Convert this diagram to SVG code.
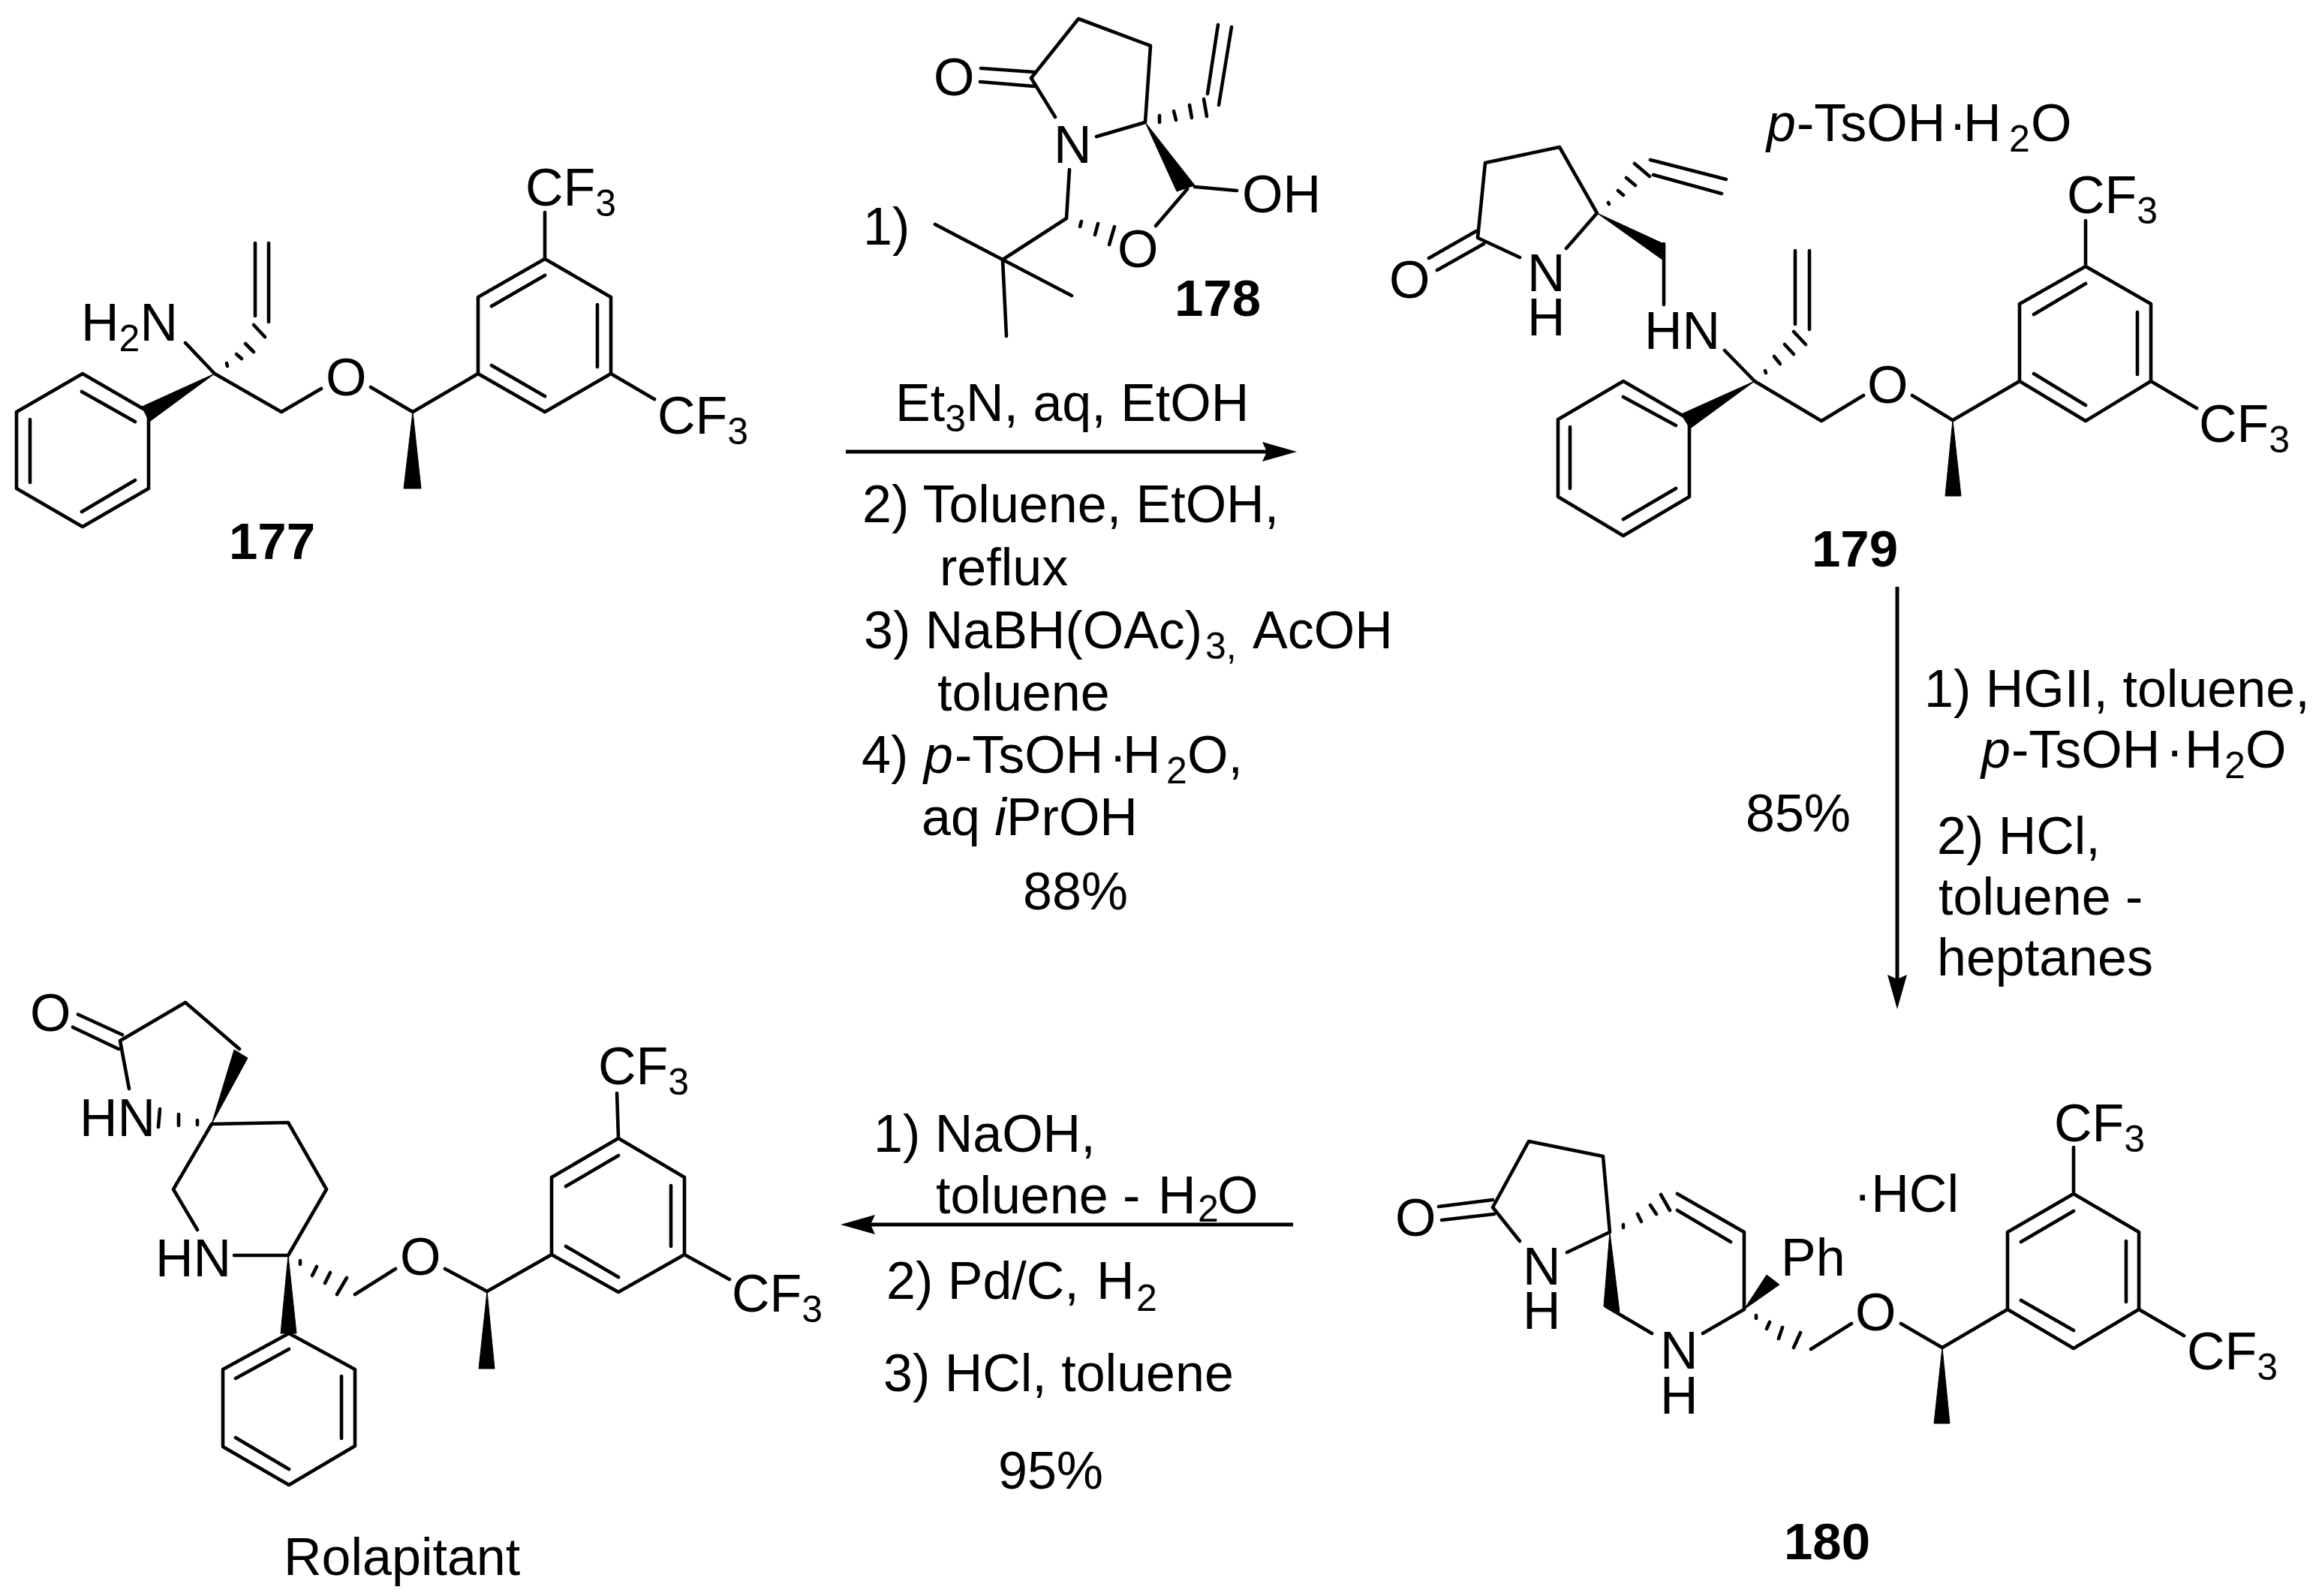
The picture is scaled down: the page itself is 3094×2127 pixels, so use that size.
<svg xmlns="http://www.w3.org/2000/svg" width="3094" height="2127" viewBox="0 0 3094 2127">
<style>
.b{stroke:#000;stroke-width:4.6;fill:none;stroke-linecap:round;stroke-linejoin:round}
.w{fill:#000;stroke:#000;stroke-width:1;stroke-linejoin:round}
.a{stroke:#000;stroke-width:5;fill:none}
text{font-family:"Liberation Sans",Arial,sans-serif;font-size:70px;fill:#000}
.s{font-size:50px}
.n{font-weight:bold;font-size:69px}
.i{font-style:italic}
</style>
<defs>
<marker id="head" markerUnits="userSpaceOnUse" markerWidth="46" markerHeight="26" refX="6" refY="13" orient="auto" viewBox="0 0 46 26"><path d="M0 0L46 13L0 26L6 13Z" fill="#000"/></marker>
</defs>
<rect width="3094" height="2127" fill="#fff"/>
<g id="connectors">
<path class="a" d="M1127 602H1688" marker-end="url(#head)"/>
<path class="a" d="M2528 782V1305" marker-end="url(#head)"/>
<path class="a" d="M1723 1632H1160" marker-end="url(#head)"/>
</g>
<g id="mol-177">
<path class="b" d="M198 549L110 498L22 549V651L110 702L198 651ZM109 522L180 562M180 640L109 682M40 559V643"/>
<path class="w" d="M286 498L189 542L199 562Z"/>
<path class="b" d="M286 498L247 457M286 498L375 549L428 518M494 516L550 549L637 498M340 324V421M358 324V429"/>
<path class="b" d="M302 484L303 488M315 472L322 478M327 458L338 469M338 433L353 449"/>
<path class="w" d="M550 549L538 651H561Z"/>
<path class="b" d="M726 345L814 396V498L726 549L637 498V396ZM726 367L655 408M796 406V489M655 487L726 528M726 345V283M814 498L872 532"/>
<text x="108" y="454">H<tspan class="s" dy="14">2</tspan><tspan dy="-14">N</tspan></text>
<text x="434" y="527">O</text>
<text x="700" y="274">CF<tspan class="s" dy="14">3</tspan></text>
<text x="876" y="578">CF<tspan class="s" dy="14">3</tspan></text>
<text class="n" x="305" y="745">177</text>
</g>
<g id="mol-178">
<path class="b" d="M1406 156L1374 104L1437 25L1533 61L1526 163L1461 182M1307 91L1378 96M1306 109L1378 115"/>
<path class="b" d="M1545 154V163M1564 148L1567 160M1585 140L1588 157M1604 132L1608 155M1623 33L1609 125M1641 36L1624 140"/>
<path class="w" d="M1526 163L1568 255L1592 247Z"/>
<path class="b" d="M1592 249L1648 254M1582 252L1540 301M1425 226L1421 291L1336 346L1246 299M1336 346L1428 394M1336 346L1341 448"/>
<path class="b" d="M1441 295L1439 302M1463 298L1459 313M1485 302L1478 326"/>
<text x="1404" y="217">N</text>
<text x="1244" y="127">O</text>
<text x="1655" y="283">OH</text>
<text x="1489" y="356">O</text>
<text x="1150" y="326">1)</text>
<text class="n" x="1565" y="421">178</text>
</g>
<g id="mol-179">
<path class="b" d="M2025 343L1969 317L1979 217L2078 196L2128 284L2087 331M1904 344L1967 308M1915 360L1977 325"/>
<path class="b" d="M2143 270L2144 272M2156 254L2163 260M2167 237L2179 247M2178 218L2198 235M2199 213L2300 239M2203 233L2294 258"/>
<path class="w" d="M2128 284L2217 325L2215 346Z"/>
<path class="b" d="M2217 325V406M2298 467L2338 508L2427 561L2483 527M2548 527L2602 560L2691 508M2392 334V432M2411 334V439"/>
<path class="b" d="M2352 494L2353 497M2364 475L2372 485M2378 459L2390 472M2390 442L2406 459"/>
<path class="w" d="M2338 508L2240 552L2252 571Z"/>
<path class="b" d="M2251 559L2163 508L2076 559V662L2163 714L2251 662ZM2163 529L2233 567M2233 651L2163 692M2092 569V651"/>
<path class="w" d="M2602 560L2592 661H2613Z"/>
<path class="b" d="M2779 355L2866 405V508L2779 561L2691 508V405ZM2779 378L2710 419M2848 416V499M2710 498L2779 540M2779 355V294M2866 508L2927 544"/>
<text x="2035" y="388">N</text>
<text x="2035" y="447">H</text>
<text x="1851" y="397">O</text>
<text x="2191" y="465">HN</text>
<text x="2488" y="537">O</text>
<text x="2754" y="284">CF<tspan class="s" dy="14">3</tspan></text>
<text x="2930" y="589">CF<tspan class="s" dy="14">3</tspan></text>
<text x="2354" y="188"><tspan class="i">p</tspan><tspan x="2394">-TsOH</tspan><tspan x="2597">·</tspan><tspan x="2616">H</tspan><tspan class="s" x="2677" dy="14">2</tspan><tspan x="2706" dy="-14">O</tspan></text>
<text class="n" x="2414" y="755">179</text>
</g>
<g id="mol-180">
<path class="b" d="M2025 1654L1989 1609L2037 1521L2136 1541L2145 1642L2088 1669M1917 1608L1989 1599M1921 1626L1991 1618"/>
<path class="b" d="M2163 1632V1636M2182 1618L2187 1628M2199 1606L2207 1618M2213 1592L2225 1613M2235 1591L2324 1642V1745M2235 1613L2306 1655"/>
<path class="w" d="M2324 1745L2354 1699L2371 1712Z"/>
<path class="w" d="M2145 1642L2137 1741L2158 1748Z"/>
<path class="b" d="M2140 1741L2201 1777M2269 1777L2324 1745M2413 1798L2467 1764M2533 1764L2588 1796L2675 1745"/>
<path class="b" d="M2340 1753V1757M2358 1762L2354 1771M2375 1769L2370 1784M2399 1776L2390 1796"/>
<path class="w" d="M2588 1796L2577 1897H2598Z"/>
<path class="b" d="M2763 1591L2850 1642V1745L2763 1797L2675 1745V1642ZM2763 1614L2693 1655M2833 1654V1735M2693 1733L2763 1773M2763 1591V1529M2850 1745L2910 1780"/>
<text x="2029" y="1712">N</text>
<text x="2029" y="1771">H</text>
<text x="1859" y="1647">O</text>
<text x="2212" y="1824">N</text>
<text x="2212" y="1884">H</text>
<text x="2373" y="1700">Ph</text>
<text x="2472" y="1773">O</text>
<text x="2737" y="1521">CF<tspan class="s" dy="14">3</tspan></text>
<text x="2914" y="1825">CF<tspan class="s" dy="14">3</tspan></text>
<text x="2470" y="1615">·HCl</text>
<text class="n" x="2377" y="2078">180</text>
</g>
<g id="mol-rolapitant">
<path class="b" d="M104 1352L163 1379M97 1369L158 1398M172 1451L160 1387L247 1336L319 1398"/>
<path class="w" d="M282 1498L312 1399L330 1410Z"/>
<path class="b" d="M263 1493V1499M238 1485V1500M213 1478L211 1502"/>
<path class="b" d="M263 1639L231 1585L282 1498L384 1496L435 1585L384 1673L312 1673"/>
<path class="w" d="M384 1673L374 1777H395Z"/>
<path class="b" d="M400 1680V1685M422 1688L416 1700M440 1696L433 1710M462 1703L449 1725M473 1725L527 1691M593 1691L649 1721L735 1672"/>
<path class="w" d="M649 1721L638 1824H659Z"/>
<path class="b" d="M824 1517L912 1569V1672L824 1722L735 1672V1569ZM824 1540L754 1581M894 1580V1661M754 1661L824 1702M824 1517L822 1457M912 1672L972 1705"/>
<path class="b" d="M385 1777L473 1825V1927L385 1979L297 1928V1825ZM385 1798L314 1837M455 1834V1917M314 1916L385 1958"/>
<text x="40" y="1374">O</text>
<text x="106" y="1514">HN</text>
<text x="207" y="1701">HN</text>
<text x="533" y="1699">O</text>
<text x="797" y="1445">CF<tspan class="s" dy="14">3</tspan></text>
<text x="975" y="1748">CF<tspan class="s" dy="14">3</tspan></text>
<text x="378" y="2099">Rolapitant</text>
</g>
<g id="labels-step-1">
<text x="1193" y="561">Et<tspan class="s" dy="14">3</tspan><tspan dy="-14">N, aq, EtOH</tspan></text>
<text x="1149" y="696">2) Toluene, EtOH,</text>
<text x="1252" y="780">reflux</text>
<text x="1151" y="864">3) NaBH(OAc)<tspan class="s" x="1606" dy="14">3,</tspan><tspan x="1669" dy="-14">AcOH</tspan></text>
<text x="1249" y="947">toluene</text>
<text x="1148" y="1030">4) <tspan class="i" x="1231">p</tspan><tspan x="1272">-TsOH</tspan><tspan x="1478">·</tspan><tspan x="1496">H</tspan><tspan class="s" x="1554" dy="14">2</tspan><tspan x="1582" dy="-14">O,</tspan></text>
<text x="1228" y="1113">aq <tspan class="i">i</tspan>PrOH</text>
<text x="1363" y="1212">88%</text>
</g>
<g id="labels-step-2">
<text x="2326" y="1108">85%</text>
<text x="2564" y="942">1) HGII, toluene,</text>
<text x="2640" y="1023"><tspan class="i">p</tspan><tspan x="2680">-TsOH</tspan><tspan x="2886">·</tspan><tspan x="2911">H</tspan><tspan class="s" x="2964" dy="14">2</tspan><tspan x="2992" dy="-14">O</tspan></text>
<text x="2581" y="1138">2) HCl,</text>
<text x="2583" y="1219">toluene -</text>
<text x="2581" y="1300">heptanes</text>
</g>
<g id="labels-step-3">
<text x="1164" y="1535">1) NaOH,</text>
<text x="1247" y="1617">toluene - <tspan x="1543">H</tspan><tspan class="s" x="1596" dy="11">2</tspan><tspan x="1622" dy="-11">O</tspan></text>
<text x="1181" y="1731">2) Pd/C, <tspan x="1461">H</tspan><tspan class="s" x="1514" dy="16">2</tspan></text>
<text x="1177" y="1854">3) HCl, toluene</text>
<text x="1330" y="1984">95%</text>
</g>
</svg>
